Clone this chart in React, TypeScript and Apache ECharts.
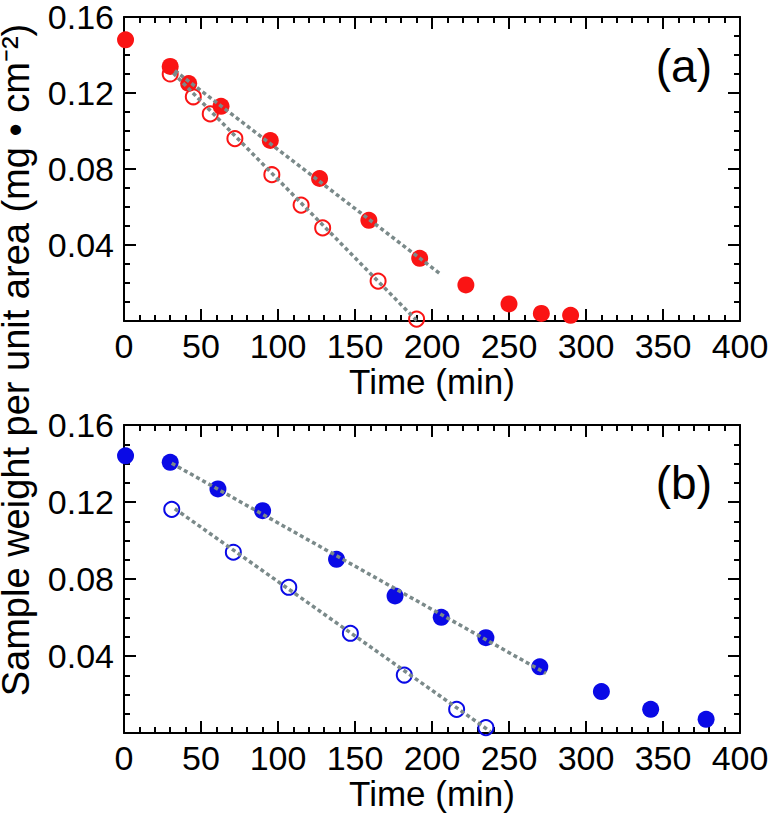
import React, { useEffect, useRef } from "react";
import * as echarts from "echarts";

// Panel (a)
const timeAFilled = [1, 30, 42, 63, 95, 127, 159, 192, 222, 250, 271, 290];
const weightAFilled = [0.148, 0.134, 0.125, 0.113, 0.095, 0.075, 0.053, 0.033, 0.019, 0.009, 0.004, 0.003];
const timeAOpen = [30, 45, 56, 72, 96, 115, 129, 165, 190];
const weightAOpen = [0.13, 0.118, 0.109, 0.096, 0.077, 0.061, 0.049, 0.021, 0.001];
const fitAFilledT = [33, 206];
const fitAFilledW = [0.1318, 0.0244];
const fitAOpenT = [32, 190];
const fitAOpenW = [0.1305, 0.0003];

// Panel (b)
const timeBFilled = [1, 30, 61, 90, 138, 176, 206, 235, 270, 310, 342, 378];
const weightBFilled = [0.144, 0.1406, 0.1268, 0.1155, 0.0902, 0.0712, 0.0601, 0.0495, 0.0344, 0.0215, 0.0123, 0.0071];
const timeBOpen = [31, 71, 107, 147, 182, 216, 235];
const weightBOpen = [0.1162, 0.0939, 0.0757, 0.0518, 0.0301, 0.0123, 0.0028];
const fitBFilledT = [31, 274];
const fitBFilledW = [0.1401, 0.031];
const fitBOpenT = [33, 238];
const fitBOpenW = [0.1165, 0.0007];

const panelLabels = ["(a)", "(b)"];
const xTitle = "Time (min)";
const yTitle = "Sample weight per unit area (mg \u2022 cm\u207B\u00B2)";

const FONT = '"Liberation Sans", Arial, Helvetica, sans-serif';
const RED = "#fa1414";
const BLUE = "#0a0ae6";
const FIT = "#7b8a8a";

const zip = (a: number[], b: number[]) => a.map((v, i) => [v, b[i]]);

export default function App() {
  const ref = useRef<HTMLDivElement>(null);
  useEffect(() => {
    if (!ref.current) return;
    const chart = echarts.init(ref.current, undefined, { renderer: "svg" });

    const grids = [
      { left: 124, top: 13, width: 616, height: 308 },
      { left: 124, top: 425, width: 616, height: 308 },
    ];

    const axisLine = { show: true, onZero: false, lineStyle: { color: "#000", width: 2 } };
    const xAxes: any[] = [];
    const yAxes: any[] = [];
    grids.forEach((_, gi) => {
      const base = {
        gridIndex: gi,
        type: "value",
        min: 0,
        max: 400,
        interval: 50,
        axisLine,
        axisTick: { show: true, inside: true, length: 12, lineStyle: { color: "#000", width: 2 } },
        minorTick: { show: true, splitNumber: 5, length: 6, lineStyle: { color: "#000", width: 2 } },
        splitLine: { show: false },
        minorSplitLine: { show: false },
      };
      xAxes.push({
        ...base,
        position: "bottom",
        name: xTitle,
        nameLocation: "middle",
        nameGap: 42,
        nameTextStyle: { fontFamily: FONT, fontSize: 35, color: "#000" },
        axisLabel: { show: true, margin: 8, fontFamily: FONT, fontSize: 34, color: "#000" },
      });
      xAxes.push({ ...base, position: "top", axisLabel: { show: false } });
      const ybase = {
        gridIndex: gi,
        type: "value",
        min: 0,
        max: 0.16,
        interval: 0.04,
        axisLine,
        axisTick: { show: true, inside: true, length: 12, lineStyle: { color: "#000", width: 2 } },
        minorTick: { show: true, splitNumber: 4, length: 6, lineStyle: { color: "#000", width: 2 } },
        splitLine: { show: false },
        minorSplitLine: { show: false },
      };
      yAxes.push({
        ...ybase,
        position: "left",
        axisLabel: {
          show: true,
          margin: 10,
          fontFamily: FONT,
          fontSize: 34,
          lineHeight: 26,
          color: "#000",
          formatter: (v: number) => (v === 0 ? "" : v.toFixed(2)),
        },
      });
      yAxes.push({ ...ybase, position: "right", axisLabel: { show: false } });
    });

    const filled = (data: number[][], gi: number, color: string) => ({
      type: "scatter",
      xAxisIndex: gi * 2,
      yAxisIndex: gi * 2,
      data,
      symbol: "circle",
      symbolSize: 17,
      itemStyle: { color, opacity: 1 },
      z: 2,
    });
    const open = (data: number[][], gi: number, color: string) => ({
      type: "scatter",
      xAxisIndex: gi * 2,
      yAxisIndex: gi * 2,
      data,
      symbol: "circle",
      symbolSize: 15,
      itemStyle: { color: "rgba(255,255,255,0)", borderColor: color, borderWidth: 2, opacity: 1 },
      z: 2,
    });
    const fit = (data: number[][], gi: number) => ({
      type: "line",
      xAxisIndex: gi * 2,
      yAxisIndex: gi * 2,
      data,
      symbol: "none",
      lineStyle: { color: FIT, width: 3.5, type: [4, 3], cap: "butt" },
      z: 3,
    });

    chart.setOption({
      animation: false,
      backgroundColor: "#fff",
      grid: grids,
      xAxis: xAxes,
      yAxis: yAxes,
      series: [
        filled(zip(timeAFilled, weightAFilled), 0, RED),
        open(zip(timeAOpen, weightAOpen), 0, RED),
        fit(zip(fitAFilledT, fitAFilledW), 0),
        fit(zip(fitAOpenT, fitAOpenW), 0),
        filled(zip(timeBFilled, weightBFilled), 1, BLUE),
        open(zip(timeBOpen, weightBOpen), 1, BLUE),
        fit(zip(fitBFilledT, fitBFilledW), 1),
        fit(zip(fitBOpenT, fitBOpenW), 1),
      ],
      graphic: [
        {
          type: "text",
          x: 16,
          y: 360,
          rotation: Math.PI / 2,
          style: {
            text: yTitle,
            font: `38px ${FONT}`,
            lineHeight: 30,
            fill: "#000",
            align: "center",
            verticalAlign: "middle",
          },
        },
        {
          type: "text",
          x: 712,
          y: 66,
          style: { text: panelLabels[0], font: `46px ${FONT}`, fill: "#000", align: "right", verticalAlign: "middle" },
        },
        {
          type: "text",
          x: 712,
          y: 483,
          style: { text: panelLabels[1], font: `46px ${FONT}`, fill: "#000", align: "right", verticalAlign: "middle" },
        },
      ],
    });
    return () => chart.dispose();
  }, []);
  return <div ref={ref} style={{ position: "fixed", left: 0, top: 0, width: 772, height: 816 }} />;
}
